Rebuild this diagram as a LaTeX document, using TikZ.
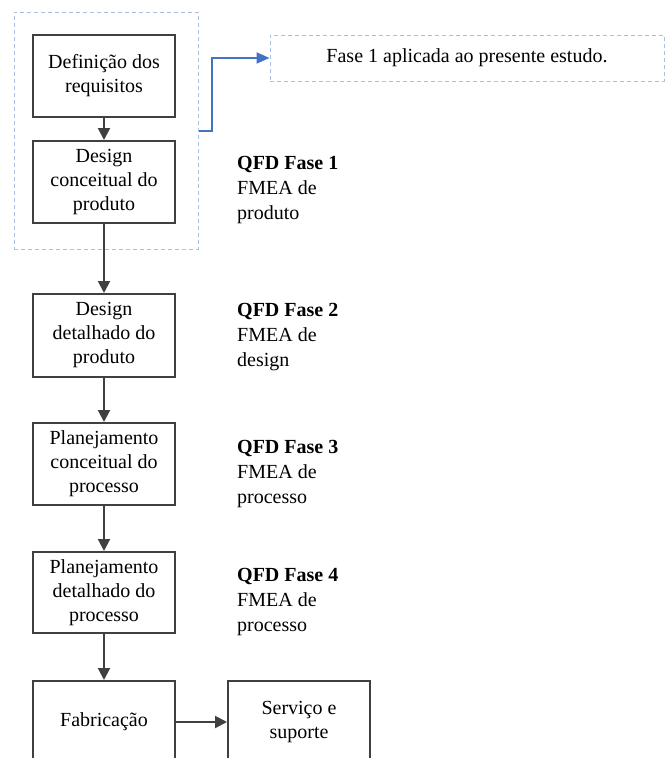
\documentclass[tikz,border=0pt]{standalone}
\usepackage{fontspec}
\setmainfont{Liberation Serif}
\usetikzlibrary{arrows.meta,positioning}
\definecolor{boxline}{HTML}{404040}
\definecolor{grpblue}{HTML}{A9BFE6}
\definecolor{linkblue}{HTML}{4472C4}
\tikzset{
  stage/.style={draw=boxline, line width=2pt, minimum width=142pt, minimum height=82pt, align=center, inner sep=2pt, font=\fontsize{20}{24}\selectfont},
  qfdnote/.style={anchor=west, align=left, inner sep=0pt, font=\fontsize{20}{25}\selectfont},
  dashbox/.style={draw=grpblue, line width=1pt, dash pattern=on 4pt off 3pt, inner sep=0pt},
  flow/.style={-{Triangle[width=12pt,length=12pt]}, draw=boxline, line width=2pt},
  link/.style={-{Triangle[width=11pt,length=13pt]}, draw=linkblue, line width=2pt},
}
\begin{document}
\begin{tikzpicture}[x=1pt, y=-1pt]
\useasboundingbox (0,0) rectangle (669,758);

% Phase 1 group and its note
\node[dashbox, minimum width=184pt, minimum height=237pt] (grupo) at (106,130.5) {};
\node[dashbox, minimum width=394pt, minimum height=46pt, font=\fontsize{20}{24}\selectfont] (fase) at (467,58) {Fase 1 aplicada ao presente estudo.};

% Stages
\node[stage] (req) at (104,76) {Definição dos\\requisitos};
\node[stage] (conc) at (104,182) {Design\\conceitual do\\produto};
\node[stage, minimum height=83pt] (detal) at (104,335.5) {Design\\detalhado do\\produto};
\node[stage] (planc) at (104,464) {Planejamento\\conceitual do\\processo};
\node[stage, minimum height=81pt] (pland) at (104,592.5) {Planejamento\\detalhado do\\processo};
\node[stage] (fab) at (104,722) {Fabricação};
\node[stage] (serv) at (299,722) {Serviço e\\suporte};

% QFD / FMEA notes
\node[qfdnote] (q1) at (237,190) {\textbf{QFD Fase 1}\\FMEA de\\produto};
\node[qfdnote] (q2) at (237,337) {\textbf{QFD Fase 2}\\FMEA de\\design};
\node[qfdnote] (q3) at (237,474) {\textbf{QFD Fase 3}\\FMEA de\\processo};
\node[qfdnote] (q4) at (237,602) {\textbf{QFD Fase 4}\\FMEA de\\processo};

% Flow
\draw[flow] (req) -- (conc);
\draw[flow] (conc) -- (detal);
\draw[flow] (detal) -- (planc);
\draw[flow] (planc) -- (pland);
\draw[flow] (pland) -- (fab);
\draw[flow] (fab) -- (serv);

\draw[link] (grupo.east) -- ++(13,0) |- (fase.west);
\end{tikzpicture}
\end{document}
